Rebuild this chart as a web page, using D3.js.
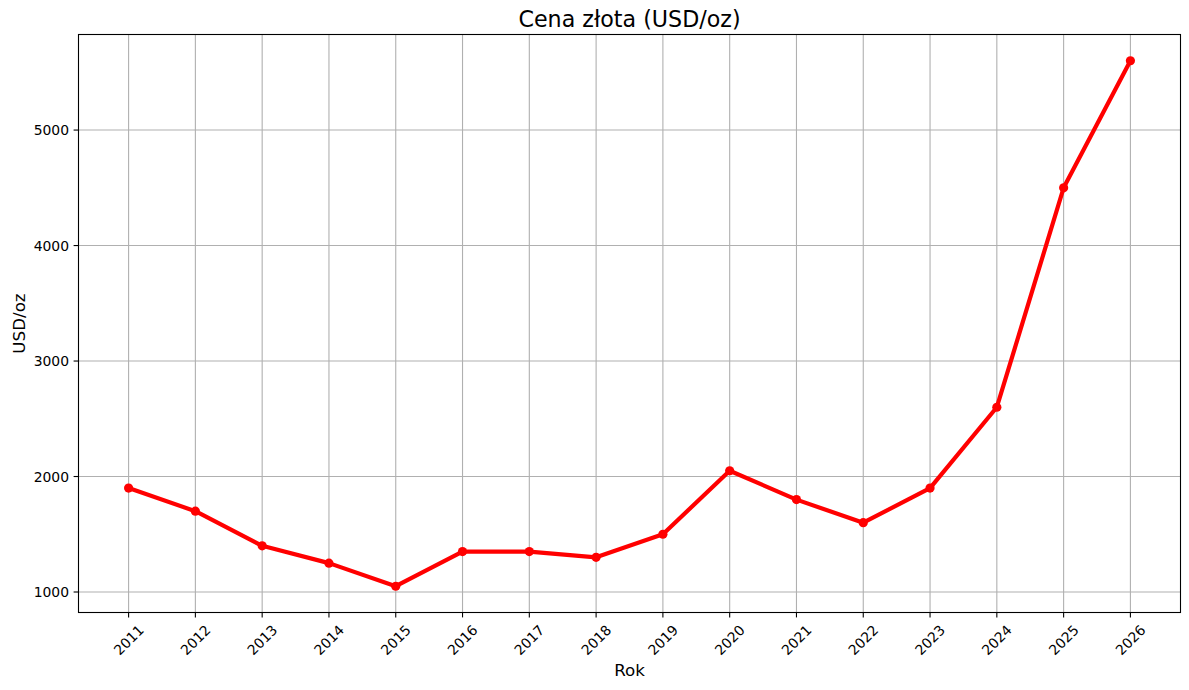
<!DOCTYPE html>
<html><head><meta charset="utf-8">
<script src="https://cdn.jsdelivr.net/npm/d3@7"></script>
<style>body{margin:0;background:#fff}svg{display:block;font-family:"DejaVu Sans",sans-serif}</style>
</head><body>
<svg id="c" width="1189" height="690"></svg>
<script>
const years = [2011,2012,2013,2014,2015,2016,2017,2018,2019,2020,2021,2022,2023,2024,2025,2026];
const prices = [1900,1700,1400,1250,1050,1350,1350,1300,1500,2050,1800,1600,1900,2600,4500,5600];
const yTicks = [1000,2000,3000,4000,5000];
const title = "Cena złota (USD/oz)";
const xLabel = "Rok";
const yLabel = "USD/oz";

const svg = d3.select("#c");
const L = 78.5, R = 1180.5, T = 34.5, B = 612.5;
const x = d3.scaleLinear().domain([2010.25, 2026.75]).range([L, R]);
const yMin = d3.min(prices), yMax = d3.max(prices), pad = (yMax - yMin) * 0.05;
const y = d3.scaleLinear().domain([yMin - pad, yMax + pad]).range([B, T]);

// grid
const g = svg.append("g");
g.selectAll(".vx").data(years).enter().append("line")
  .attr("x1", d => x(d)).attr("x2", d => x(d)).attr("y1", T).attr("y2", B)
  .attr("stroke", "#b0b0b0").attr("stroke-width", 1.1);
g.selectAll(".hy").data(yTicks).enter().append("line")
  .attr("y1", d => y(d)).attr("y2", d => y(d)).attr("x1", L).attr("x2", R)
  .attr("stroke", "#b0b0b0").attr("stroke-width", 1.1);

// line
svg.append("path").datum(years.map((d,i)=>[d,prices[i]]))
  .attr("fill","none").attr("stroke","#ff0000").attr("stroke-width",4.2)
  .attr("stroke-linejoin","round").attr("stroke-linecap","butt")
  .attr("d", d3.line().x(d=>x(d[0])).y(d=>y(d[1])));
svg.selectAll(".pt").data(years).enter().append("circle")
  .attr("cx", d => x(d)).attr("cy", (d,i) => y(prices[i])).attr("r", 4.6)
  .attr("fill", "#ff0000");

// frame
svg.append("rect").attr("x", L).attr("y", T).attr("width", R-L).attr("height", B-T)
  .attr("fill","none").attr("stroke","#000").attr("stroke-width",1.1);

// x ticks
const xt = svg.append("g");
years.forEach(d => {
  xt.append("line").attr("x1", x(d)).attr("x2", x(d)).attr("y1", B).attr("y2", B+4.9)
    .attr("stroke","#000").attr("stroke-width",1.1);
  xt.append("text").attr("transform", `translate(${x(d)},${640}) rotate(-45)`)
    .attr("text-anchor","middle").attr("dominant-baseline","central")
    .attr("font-size", 13.9).attr("fill","#000").text(d);
});
// y ticks
const yt = svg.append("g");
yTicks.forEach(d => {
  yt.append("line").attr("x1", L-4.9).attr("x2", L).attr("y1", y(d)).attr("y2", y(d))
    .attr("stroke","#000").attr("stroke-width",1.1);
  yt.append("text").attr("x", L-9.5).attr("y", y(d)).attr("text-anchor","end")
    .attr("dominant-baseline","central").attr("font-size",13.9).attr("fill","#000").text(d);
});

svg.append("text").attr("x",(L+R)/2).attr("y",19).attr("text-anchor","middle")
  .attr("dominant-baseline","central").attr("font-size",22.2).text(title);
svg.append("text").attr("x",(L+R)/2).attr("y",670).attr("text-anchor","middle")
  .attr("dominant-baseline","central").attr("font-size",16.7).text(xLabel);
svg.append("text").attr("transform",`translate(19,${(T+B)/2}) rotate(-90)`).attr("text-anchor","middle")
  .attr("dominant-baseline","central").attr("font-size",16.7).text(yLabel);
</script>
</body></html>
